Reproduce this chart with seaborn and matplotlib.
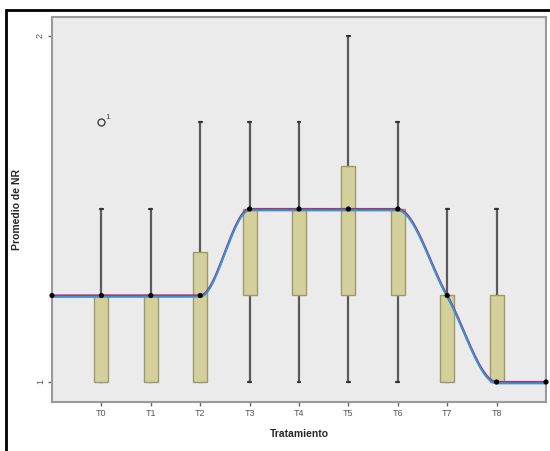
import numpy as np
import matplotlib
matplotlib.use("Agg")
import matplotlib.pyplot as plt
import seaborn as sns
import pandas as pd
from matplotlib.patches import Rectangle

# ---- data ----
categories = ["T0", "T1", "T2", "T3", "T4", "T5", "T6", "T7", "T8"]
whislo = [1.0, 1.0, 1.0, 1.0, 1.0, 1.0, 1.0, 1.0, 1.0]
q1 =     [1.0, 1.0, 1.0, 1.25, 1.25, 1.25, 1.25, 1.0, 1.0]
median = [1.25, 1.25, 1.25, 1.5, 1.5, 1.5, 1.5, 1.25, 1.0]
q3 =     [1.25, 1.25, 1.375, 1.5, 1.5, 1.625, 1.5, 1.25, 1.25]
whishi = [1.5, 1.5, 1.75, 1.75, 1.75, 2.0, 1.75, 1.5, 1.5]
outlier_cat = "T0"
outlier_val = 1.75
outlier_label = "1"
# interpolation line end anchors
line_start = 1.25
line_end = 1.0

sns.set_theme(style="white")
plt.rcParams['font.family'] = ['Liberation Sans', 'DejaVu Sans']

fig = plt.figure(figsize=(5.5, 4.51), dpi=100)
ax = fig.add_axes([52/550, 1-402/451, (546-52)/550, (402-17)/451])
ax.set_facecolor("#EBEBEB")

pos = np.arange(len(categories))
stats = []
for i, c in enumerate(categories):
    stats.append(dict(label=c, whislo=whislo[i], q1=q1[i], med=median[i],
                      q3=q3[i], whishi=whishi[i], fliers=[]))
res = ax.bxp(stats, positions=pos, widths=0.28, patch_artist=True, showfliers=False,
             boxprops=dict(facecolor="#D3D09C", edgecolor="#9C9A6C", linewidth=1.0),
             medianprops=dict(linewidth=0),
             whiskerprops=dict(color="#5A5A5A", linewidth=1.6),
             capprops=dict(color="#333333", linewidth=1.6),
             capwidths=0.06)
for b in res["boxes"]:
    b.set_zorder(3)

# outlier
oi = categories.index(outlier_cat)
ax.plot([pos[oi]], [outlier_val], marker="o", mfc="none", mec="#444444",
        ms=5, mew=1.0, ls="none", zorder=4)
ax.text(pos[oi] + 0.07, outlier_val + 0.004, outlier_label, fontsize=6,
        color="#444444", ha="left", va="bottom")

# smooth monotone interpolation line through medians (PCHIP)
xs = np.concatenate([[-1], pos, [len(categories)]]).astype(float)
ys = np.array([line_start] + median + [line_end], dtype=float)
h = np.diff(xs)
d = np.diff(ys) / h
m = np.zeros_like(ys)
for k in range(1, len(ys) - 1):
    if d[k-1] * d[k] > 0:
        m[k] = 2 / (1/d[k-1] + 1/d[k])
xx, yy = [], []
for k in range(len(xs) - 1):
    t = np.linspace(0, 1, 60)
    h00 = 2*t**3 - 3*t**2 + 1
    h10 = t**3 - 2*t**2 + t
    h01 = -2*t**3 + 3*t**2
    h11 = t**3 - t**2
    xx.append(xs[k] + t*h[k])
    yy.append(h00*ys[k] + h10*h[k]*m[k] + h01*ys[k+1] + h11*h[k]*m[k+1])
curve = pd.DataFrame({"x": np.concatenate(xx), "y": np.concatenate(yy)})
sns.lineplot(data=curve, x="x", y="y", ax=ax, color="#B2325A", lw=1.6,
             sort=False, zorder=5)
curve2 = curve.copy()
curve2["y"] = curve2["y"] - 0.004
sns.lineplot(data=curve2, x="x", y="y", ax=ax, color="#2E95E0", lw=1.4,
             sort=False, zorder=5)
pts = pd.DataFrame({"x": xs, "y": ys})
sns.scatterplot(data=pts, x="x", y="y", ax=ax, color="black", s=14,
                edgecolor="none", zorder=6, clip_on=False)

ax.set_xlim(-1, len(categories))
ax.set_ylim(1 - 20/346, 1 + 365/346)
ax.set_xticks(pos)
ax.set_xticklabels(categories, fontsize=6.5, color="#555555")
ax.set_yticks([1, 2])
ax.set_yticklabels(["1", "2"], fontsize=6.5, color="#555555", rotation=90,
                   va="center")
ax.tick_params(axis="both", length=3, width=1, color="#666666", pad=2,
               bottom=True, left=True)
for s in ax.spines.values():
    s.set_color("#9A9A9A")
    s.set_linewidth(1.5)
ax.set_xlabel("Tratamiento", fontsize=7.5, fontweight="bold", labelpad=8)
ax.set_ylabel("Promedio de NR", fontsize=7.5, fontweight="bold", labelpad=10)

# outer black frame
fig.patches.append(Rectangle((6/550, -0.05), 1.1, 1 - 10/451 + 0.05,
                             transform=fig.transFigure, fill=False,
                             edgecolor="black", linewidth=2))

fig.savefig("out.png", dpi=100)
